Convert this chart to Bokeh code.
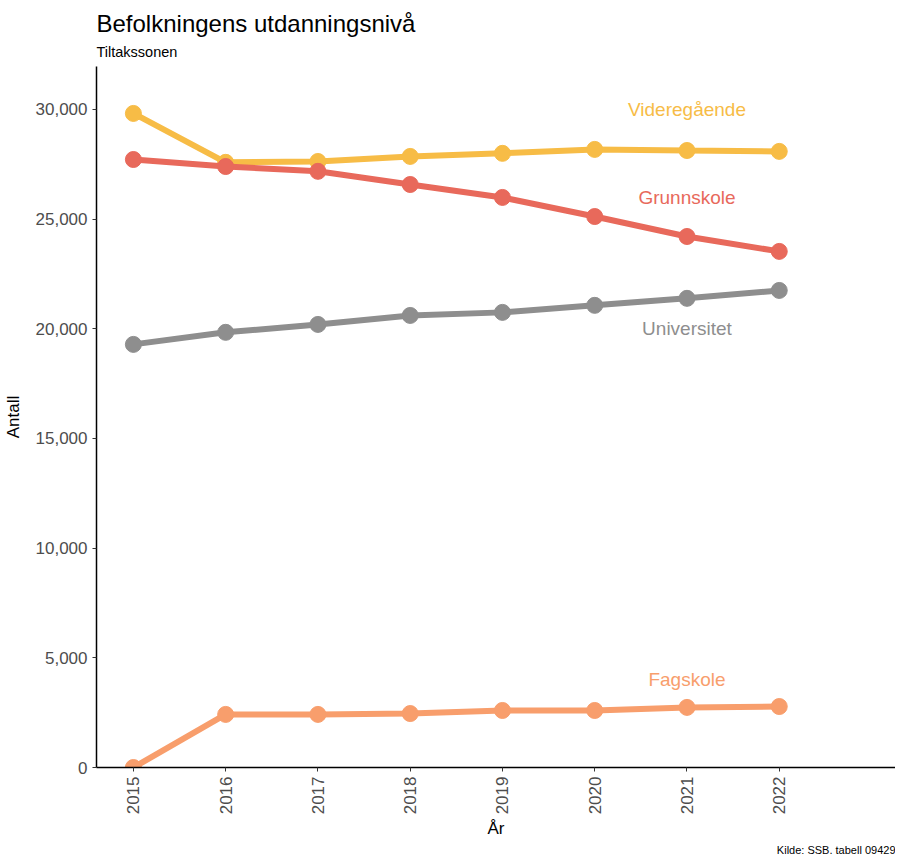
import math
from bokeh.plotting import figure
from bokeh.models import Range1d, NumeralTickFormatter, FixedTicker, Title, ColumnDataSource
from bokeh.core.properties import value
from bokeh.embed import file_html
from bokeh.resources import INLINE

years = [2015, 2016, 2017, 2018, 2019, 2020, 2021, 2022]
videregaende = [29820, 27590, 27630, 27860, 28000, 28180, 28130, 28090]
grunnskole = [27720, 27400, 27180, 26580, 25990, 25120, 24210, 23530]
universitet = [19290, 19840, 20200, 20610, 20750, 21070, 21390, 21750]
fagskole = [0, 2420, 2420, 2460, 2600, 2600, 2740, 2780]

series_names = ["Videregående", "Grunnskole", "Universitet", "Fagskole"]
series_colors = ["#F7BC46", "#E8695B", "#8E8E8E", "#F89E6C"]
label_x = [2021, 2021, 2021, 2021]
label_y = [30000, 26000, 20000, 4000]
y_ticks = [0, 5000, 10000, 15000, 20000, 25000, 30000]

FONT = "Liberation Sans"

p = figure(frame_width=799, frame_height=701, output_backend="svg", toolbar_location=None,
           x_range=Range1d(2014.6, 2023.26), y_range=Range1d(0, 31960),
           min_border_left=88, min_border_right=0, min_border_top=0, min_border_bottom=0)
p.background_fill_color = "white"
p.outline_line_color = None
p.xgrid.visible = False
p.ygrid.visible = False

for name, vals, col in zip(series_names, [videregaende, grunnskole, universitet, fagskole], series_colors):
    src = ColumnDataSource(dict(x=years, y=vals))
    p.line("x", "y", source=src, line_color=col, line_width=6)
    p.scatter("x", "y", source=src, size=16, fill_color=col, line_color=col)

lsrc = ColumnDataSource(dict(x=label_x, y=label_y, t=series_names, c=series_colors))
p.text("x", "y", text="t", source=lsrc, text_color="c", text_align="center",
       text_baseline="middle", text_font=value(FONT), text_font_size="19px")

p.yaxis.ticker = FixedTicker(ticks=y_ticks)
p.yaxis.formatter = NumeralTickFormatter(format="0,0")
p.xaxis.ticker = FixedTicker(ticks=years)
p.xaxis.major_label_orientation = math.pi / 2
for ax in [p.xaxis[0], p.yaxis[0]]:
    ax.axis_line_color = "black"
    ax.axis_line_width = 1.5
    ax.major_tick_line_color = "#333333"
    ax.major_tick_out = 4
    ax.major_tick_in = 0
    ax.minor_tick_line_color = None
    ax.major_label_text_font = FONT
    ax.major_label_text_font_size = "17px"
    ax.major_label_text_color = "#4D4D4D"
    ax.axis_label_text_font = FONT
    ax.axis_label_text_font_size = "17px"
    ax.axis_label_text_font_style = "normal"
    ax.axis_label_text_color = "black"
p.xaxis.axis_label = "År"
p.yaxis.axis_label = "Antall"
p.xaxis.axis_label_standoff = 2
p.yaxis.axis_label_standoff = 10

p.add_layout(Title(text="Tiltakssonen", text_font=FONT, text_font_size="14.5px",
                   text_font_style="normal", text_color="black", offset=0, standoff=13), "above")
p.add_layout(Title(text="Befolkningens utdanningsnivå", text_font=FONT, text_font_size="24px",
                   text_font_style="normal", text_color="black", offset=0, standoff=-3), "above")
p.add_layout(Title(text=" ", text_font=FONT, text_font_size="7px",
                   text_font_style="normal", text_color="white", offset=0, standoff=0), "above")
p.add_layout(Title(text="Kilde: SSB, tabell 09429", text_font=FONT, text_font_size="11px",
                   text_font_style="normal", text_color="black", align="right", standoff=0), "below")

open("out.html", "w").write(file_html(p, INLINE))
